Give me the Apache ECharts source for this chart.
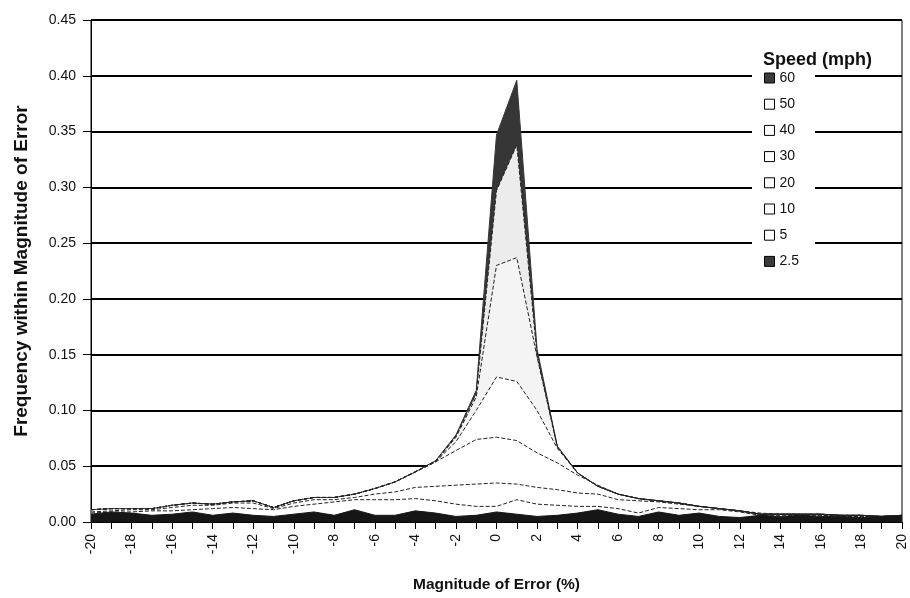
<!DOCTYPE html>
<html>
<head>
<meta charset="utf-8">
<script src="https://cdn.jsdelivr.net/npm/echarts@6/dist/echarts.min.js"></script>
<style>
  html, body { margin: 0; background: #fff; }
  #chart { width: 910px; height: 598px; }
</style>
</head>
<body>
<div id="chart"></div>
<script>
// magnitude of error (%) categories
const magnitude = [-20, -19, -18, -17, -16, -15, -14, -13, -12, -11, -10, -9, -8, -7, -6, -5, -4, -3, -2, -1,
  0, 1, 2, 3, 4, 5, 6, 7, 8, 9, 10, 11, 12, 13, 14, 15, 16, 17, 18, 19, 20];

// frequency per speed
const speed60 = [0.011, 0.012, 0.012, 0.012, 0.015, 0.017, 0.016, 0.018, 0.019, 0.013, 0.019, 0.022, 0.022, 0.025, 0.030, 0.036, 0.045,
  0.055, 0.078, 0.118, 0.347, 0.396, 0.155, 0.068, 0.044, 0.032,
  0.025, 0.021, 0.019, 0.017, 0.014, 0.012, 0.010, 0.007, 0.007, 0.007, 0.007, 0.006, 0.006, 0.005, 0.006];
const speed50 = [0.011, 0.012, 0.012, 0.012, 0.015, 0.017, 0.016, 0.018, 0.019, 0.013, 0.019, 0.022, 0.022, 0.025, 0.030, 0.036, 0.045,
  0.055, 0.077, 0.115, 0.297, 0.338, 0.150, 0.068, 0.044, 0.032,
  0.025, 0.021, 0.019, 0.017, 0.014, 0.012, 0.010, 0.007, 0.007, 0.007, 0.007, 0.006, 0.006, 0.005, 0.006];
const speed40 = [0.011, 0.012, 0.012, 0.012, 0.015, 0.017, 0.016, 0.018, 0.019, 0.013, 0.019, 0.022, 0.022, 0.025, 0.030, 0.036, 0.045,
  0.054, 0.076, 0.112, 0.230, 0.237, 0.148, 0.067, 0.044, 0.032,
  0.025, 0.021, 0.019, 0.017, 0.014, 0.012, 0.010, 0.007, 0.007, 0.007, 0.007, 0.006, 0.006, 0.005, 0.006];
const speed30 = [0.011, 0.012, 0.012, 0.012, 0.015, 0.017, 0.016, 0.018, 0.019, 0.013, 0.019, 0.022, 0.022, 0.025, 0.030, 0.036, 0.045,
  0.054, 0.072, 0.100, 0.130, 0.126, 0.100, 0.066, 0.044, 0.032,
  0.025, 0.021, 0.019, 0.017, 0.014, 0.012, 0.010, 0.007, 0.007, 0.007, 0.007, 0.006, 0.006, 0.005, 0.006];
const speed20 = [0.011, 0.012, 0.012, 0.012, 0.015, 0.017, 0.016, 0.018, 0.019, 0.013, 0.019, 0.022, 0.022, 0.025, 0.030, 0.036, 0.045,
  0.054, 0.064, 0.074, 0.076, 0.073, 0.062, 0.053, 0.042, 0.033,
  0.025, 0.021, 0.019, 0.017, 0.014, 0.012, 0.010, 0.007, 0.007, 0.007, 0.007, 0.006, 0.006, 0.005, 0.006];
const speed10 = [0.009, 0.010, 0.011, 0.011, 0.013, 0.015, 0.015, 0.017, 0.017, 0.012, 0.017, 0.020, 0.020, 0.022, 0.025, 0.027, 0.031,
  0.032, 0.033, 0.034, 0.035, 0.034, 0.031, 0.029, 0.026, 0.025,
  0.020, 0.019, 0.018, 0.016, 0.014, 0.012, 0.010, 0.008, 0.007, 0.007, 0.006, 0.006, 0.005, 0.005, 0.005];
const speed5 = [0.008, 0.009, 0.009, 0.010, 0.010, 0.011, 0.012, 0.013, 0.012, 0.011, 0.014, 0.016, 0.018, 0.020, 0.020, 0.020, 0.021,
  0.019, 0.016, 0.014, 0.014, 0.020, 0.016, 0.015, 0.014, 0.014,
  0.012, 0.008, 0.013, 0.012, 0.011, 0.011, 0.009, 0.006, 0.006, 0.006, 0.006, 0.005, 0.005, 0.005, 0.006];
const speed2_5 = [0.007, 0.009, 0.008, 0.006, 0.007, 0.009, 0.006, 0.008, 0.006, 0.005, 0.007, 0.009, 0.006, 0.011, 0.006, 0.006, 0.010,
  0.008, 0.005, 0.006, 0.009, 0.007, 0.005, 0.006, 0.008, 0.011,
  0.007, 0.005, 0.009, 0.006, 0.008, 0.005, 0.004, 0.006, 0.005, 0.006, 0.005, 0.005, 0.004, 0.005, 0.005];

const speedNames = ['60', '50', '40', '30', '20', '10', '5', '2.5'];
const speedData = [speed60, speed50, speed40, speed30, speed20, speed10, speed5, speed2_5];

const fills = ['#363636', '#ececec', '#f4f4f4', '#ffffff', '#ffffff', '#ffffff', '#ffffff', '#161616'];
const legendFills = ['#3a3a3a', '#ffffff', '#ffffff', '#ffffff', '#ffffff', '#ffffff', '#ffffff', '#3a3a3a'];
const outlined = [false, true, true, true, true, true, true, false];

const font = '"Liberation Sans", Arial, sans-serif';
const chart = echarts.init(document.getElementById('chart'));

const series = speedNames.map((name, i) => ({
  name: name,
  type: 'line',
  data: speedData[i],
  symbol: 'none',
  silent: true,
  animation: false,
  itemStyle: { color: fills[i] },
  lineStyle: outlined[i]
    ? { color: '#222', width: 1, type: [4, 2] }
    : { color: fills[i], width: 1 },
  areaStyle: { color: fills[i], opacity: 1 },
  emphasis: { disabled: true }
}));

chart.setOption({
  animation: false,
  title: {
    text: 'Speed (mph)',
    left: 758,
    top: 46,
    textStyle: { fontFamily: font, fontSize: 18, fontWeight: 'bold', color: '#111' }
  },
  legend: {
    orient: 'vertical',
    left: 752,
    top: 68,
    padding: [3, 16, 4, 12],
    backgroundColor: '#fff',
    icon: 'rect',
    itemWidth: 10,
    itemHeight: 10,
    itemGap: 12.2,
    selectedMode: false,
    textStyle: { fontFamily: font, fontSize: 14, color: '#111' },
    data: speedNames.map((name, i) => ({
      name: name,
      itemStyle: { color: legendFills[i], borderColor: '#000', borderWidth: 1 }
    }))
  },
  grid: {
    left: 91, right: 8, top: 20, bottom: 76,
    show: true, borderColor: '#000', borderWidth: 1, backgroundColor: 'transparent'
  },
  xAxis: {
    type: 'category',
    data: magnitude,
    boundaryGap: false,
    name: 'Magnitude of Error (%)',
    nameLocation: 'middle',
    nameGap: 55,
    nameTextStyle: { fontFamily: font, fontSize: 15.5, fontWeight: 'bold', color: '#111' },
    axisLine: { lineStyle: { color: '#000', width: 1 } },
    axisTick: { show: true, interval: 0, length: 7, lineStyle: { color: '#000' } },
    axisLabel: { interval: 1, rotate: 90, margin: 12, fontFamily: font, fontSize: 14, color: '#111' },
    splitLine: { show: false }
  },
  yAxis: {
    type: 'value',
    min: 0,
    max: 0.45,
    interval: 0.05,
    name: 'Frequency within Magnitude of Error',
    nameLocation: 'middle',
    nameGap: 60,
    nameTextStyle: { fontFamily: font, fontSize: 19, fontWeight: 'bold', color: '#111' },
    axisLine: { show: true, lineStyle: { color: '#000', width: 1 } },
    axisTick: { show: true, length: 8, lineStyle: { color: '#000' } },
    axisLabel: { margin: 15, fontFamily: font, fontSize: 14, color: '#111', formatter: (v) => v.toFixed(2) },
    splitLine: { lineStyle: { color: '#000', width: 2 } }
  },
  series: series
});
</script>
</body>
</html>
